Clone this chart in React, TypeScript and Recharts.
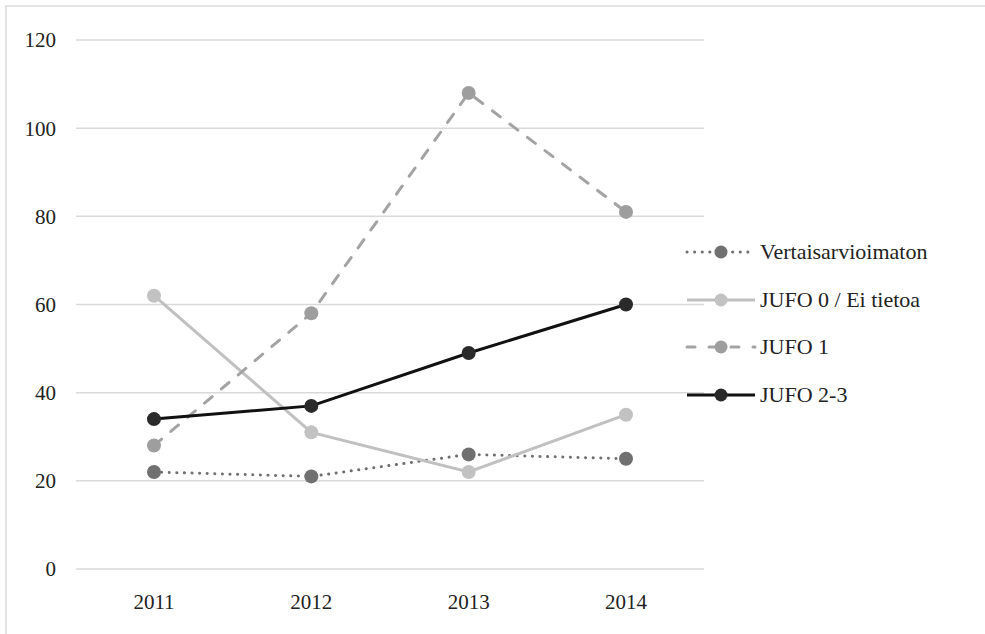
import React from 'react';
import { LineChart, Line, XAxis, YAxis, CartesianGrid } from 'recharts';

const years = ['2011', '2012', '2013', '2014'];
const vertaisarvioimaton = [22, 21, 26, 25];
const jufo0 = [62, 31, 22, 35];
const jufo1 = [28, 58, 108, 81];
const jufo23 = [34, 37, 49, 60];
const yTicks = [0, 20, 40, 60, 80, 100, 120];

const data = years.map((year, i) => ({
  year,
  vert: vertaisarvioimaton[i],
  j0: jufo0[i],
  j1: jufo1[i],
  j23: jufo23[i],
}));

const FONT = '"Liberation Serif", "Times New Roman", "DejaVu Serif", serif';

const series = [
  { key: 'vert', name: 'Vertaisarvioimaton', stroke: '#6f6f6f', dot: '#707070', dash: '0.1 7.5', cap: 'round' as const },
  { key: 'j0', name: 'JUFO 0 / Ei tietoa', stroke: '#c0c0c0', dot: '#c2c2c2', dash: undefined, cap: 'butt' as const },
  { key: 'j1', name: 'JUFO 1', stroke: '#a3a3a3', dot: '#9e9e9e', dash: '10 12', cap: 'round' as const },
  { key: 'j23', name: 'JUFO 2-3', stroke: '#111111', dot: '#2a2a2a', dash: undefined, cap: 'butt' as const },
];

// legend drawn by hand so the line icons carry a marker in the middle
function LegendBox() {
  return (
    <div style={{ position: 'absolute', left: 684, top: 228, fontFamily: FONT, fontSize: 22, color: '#222' }}>
      {series.map((s) => (
        <div key={s.key} style={{ display: 'flex', alignItems: 'center', height: 47.7 }}>
          <svg width={76} height={20}>
            <line x1={3} y1={10} x2={71} y2={10} stroke={s.stroke} strokeWidth={3}
              strokeDasharray={s.dash === '10 12' ? '8 14' : s.dash} strokeLinecap={s.cap} />
            <circle cx={37} cy={10} r={6.5} fill={s.dot} />
          </svg>
          <span>{s.name}</span>
        </div>
      ))}
    </div>
  );
}

export default function App() {
  return (
    <div style={{ position: 'absolute', left: 0, top: 0, width: 985, height: 634, background: '#fff', overflow: 'hidden' }}>
      <div style={{ position: 'absolute', left: 5, top: 5, width: 1000, height: 700, border: '2px solid #e3e3e3' }} />
      <LineChart width={985} height={634} data={data} margin={{ top: 40, right: 281, left: 16, bottom: 0 }}>
        <CartesianGrid vertical={false} stroke="#d9d9d9" strokeWidth={1.5} />
        <XAxis dataKey="year" axisLine={false} tickLine={false} height={65} tickMargin={19}
          padding={{ left: 78, right: 78 }}
          tick={{ fill: '#222', fontSize: 21, fontFamily: FONT }} />
        <YAxis domain={[0, 120]} ticks={yTicks} axisLine={false} tickLine={false} width={60} tickMargin={14}
          tick={{ fill: '#222', fontSize: 21, fontFamily: FONT }} />
        {series.map((s) => (
          <Line key={s.key} dataKey={s.key} name={s.name} type="linear" stroke={s.stroke} strokeWidth={3}
            strokeDasharray={s.dash} strokeLinecap={s.cap}
            dot={{ r: 7, fill: s.dot, stroke: 'none' }} isAnimationActive={false} />
        ))}
      </LineChart>
      <LegendBox />
    </div>
  );
}
